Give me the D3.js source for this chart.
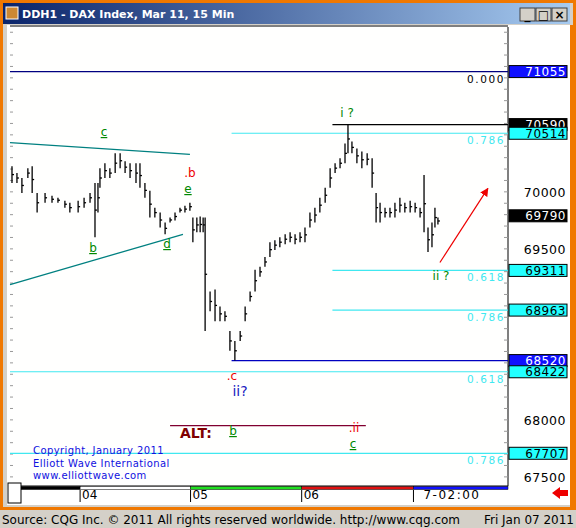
<!DOCTYPE html>
<html><head><meta charset="utf-8">
<script src="https://cdn.jsdelivr.net/npm/d3@7"></script>
<style>body{margin:0;background:#d4d0c8}svg{display:block}</style>
</head><body><svg id="c" width="576" height="528"></svg>
<script>
// bar time (15-min slot index) and high/low prices
const barT=[0.6,2.1,3.6,5.4,6.7,8.2,10.6,12.7,14.5,16.6,18.1,20.6,22.4,24.2,25.7,26.6,27.2,28.7,30.2,31.8,33.3,34.8,36.3,38.1,39.3,40.8,42.3,43.8,45.4,46.9,48.4,49.9,51.4,52.9,54.4,55.3,56.5,57.5,58.4,59,60.5,62,63.5,65,66.5,68,69.6,71.1,72.6,74.1,75.6,77.1,78.6,80.1,81.6,83.2,84.7,86.2,87.7,89.2,90.7,92.2,93.7,95.3,96.8,98.3,99.8,101.3,102.2,103.4,104.9,106.4,108,109.5,110.7,111.9,113.4,114.9,116.4,117.9,119.4,121,122.5,124,125.2,126.4,127.6,128.5,129.4];
const barHi=[70225,70165,70121,70208,70225,69991,69991,69965,69948,69922,69905,69922,69948,69991,70078,70078,70208,70251,70208,70338,70338,70268,70251,70251,70251,70078,70009,69861,69818,69732,69775,69818,69861,69879,69905,69775,69775,69783,69775,69775,69125,69143,68995,68952,68779,68692,68779,68995,69125,69316,69342,69428,69558,69576,69602,69628,69645,69628,69645,69688,69818,69861,69948,70035,70208,70251,70294,70424,70590,70442,70381,70355,70338,70294,69991,69905,69861,69861,69905,69948,69905,69922,69905,69861,70147,69688,69732,69861,69775];
const barLo=[70078,70078,69991,70121,69991,69818,69905,69905,69905,69861,69818,69818,69861,69905,69602,69818,70035,70121,70121,70165,70208,70165,70121,70078,70035,69948,69775,69775,69688,69628,69732,69749,69818,69818,69835,69558,69645,69645,69645,68779,68952,68865,68865,68865,68606,68520,68692,68865,69039,69125,69255,69342,69428,69489,69515,69541,69558,69541,69558,69558,69688,69732,69818,69905,70035,70165,70208,70251,70338,70338,70251,70208,70234,70035,69732,69732,69775,69775,69775,69818,69818,69818,69818,69775,69645,69472,69515,69688,69714];
const tickVals=[67500,68000,69500,70000];
const dayLabels=["04","05","06","7-02:00"];
const dayStarts=[21.2,54.6,88.2,122];
const levels=[ // price, box colour, text colour, fib label, line colour, start slot
 {p:71055,box:"#1010ff",tc:"#fff",fib:"0.000",lc:"#000080",t0:0},
 {p:70590,box:"#000",tc:"#fff",fib:"",lc:"#000",t0:97.5},
 {p:70514,box:"#22ffff",tc:"#000",fib:"0.786",lc:"#40e8f0",t0:67},
 {p:69311,box:"#22ffff",tc:"#000",fib:"0.618",lc:"#40e8f0",t0:97.5},
 {p:68963,box:"#22ffff",tc:"#000",fib:"0.786",lc:"#40e8f0",t0:97.5},
 {p:68520,box:"#1010ff",tc:"#fff",fib:"",lc:"#0000c0",t0:67},
 {p:68422,box:"#22ffff",tc:"#000",fib:"0.618",lc:"#40e8f0",t0:0},
 {p:67707,box:"#22ffff",tc:"#000",fib:"0.786",lc:"#40e8f0",t0:0}];
const lastPrice=69790;

const svg=d3.select("#c");
const L=10,R=508,T=27,B=486;
const x=d3.scaleLinear().domain([0,150]).range([L,L+150*3.307]);
const y=d3.scaleLinear().domain([67420,71446]).range([B,T]);
const F="Tahoma,'DejaVu Sans',sans-serif";
svg.append("rect").attr("width",576).attr("height",510).attr("fill","#f07800");
svg.append("rect").attr("x",3).attr("y",3).attr("width",570).attr("height",504).attr("fill","#d4d0c8");
const g=svg.append("defs").append("linearGradient").attr("id","tb");
g.append("stop").attr("offset","0").attr("stop-color","#0a246a");
g.append("stop").attr("offset","1").attr("stop-color","#a6caf0");
svg.append("rect").attr("x",3).attr("y",3).attr("width",567).attr("height",21).attr("fill","url(#tb)");
svg.append("rect").attr("x",6).attr("y",7).attr("width",12).attr("height",12).attr("fill","#c83").attr("stroke","#fff");
svg.append("text").attr("x",22).attr("y",18).attr("fill","#fff").attr("font-family",F).attr("font-weight","bold").attr("font-size",11).text("DDH1 - DAX Index, Mar 11, 15 Min");
["_","□","×"].forEach((s,i)=>{const bx=520+i*16;
 svg.append("rect").attr("x",bx).attr("y",8).attr("width",15).attr("height",13).attr("fill","#d4d0c8").attr("stroke","#404040");
 svg.append("text").attr("x",bx+7.5).attr("y",19).attr("text-anchor","middle").attr("font-size",12).attr("font-weight","bold").attr("font-family",F).text(s);});
svg.append("rect").attr("x",7).attr("y",25).attr("width",563).attr("height",480).attr("fill","#fff");
svg.append("rect").attr("x",570).attr("y",25).attr("width",3).attr("height",482).attr("fill","#f07800");
svg.append("rect").attr("x",L).attr("y",T).attr("width",R-L).attr("height",B-T).attr("fill","#fffffe");
svg.append("line").attr("x1",R).attr("x2",R).attr("y1",T).attr("y2",B).attr("stroke","#000");
svg.append("line").attr("x1",L).attr("x2",R).attr("y1",B).attr("y2",B).attr("stroke","#000");
svg.append("line").attr("x1",L).attr("x2",R).attr("y1",T-1).attr("y2",T-1).attr("stroke","#000");
const minor=d3.range(67500,71450,100);
svg.append("g").selectAll("line").data(minor).join("line").attr("x1",L).attr("x2",L+3).attr("y1",d=>y(d)).attr("y2",d=>y(d)).attr("stroke","#999");
svg.append("g").selectAll("line").data(minor).join("line").attr("x1",R-4).attr("x2",R).attr("y1",d=>y(d)).attr("y2",d=>y(d)).attr("stroke","#999");
svg.append("g").selectAll("text").data(tickVals).join("text").attr("x",566).attr("y",d=>y(d)+5).attr("text-anchor","end")
 .attr("font-family",F).attr("font-size",12.5).attr("letter-spacing",0.5).text(d=>d);
svg.append("line").attr("x1",x(0)).attr("y1",y(70432)).attr("x2",x(54.4)).attr("y2",y(70329)).attr("stroke","#008080").attr("stroke-width",1.3);
svg.append("line").attr("x1",x(0)).attr("y1",y(69186)).attr("x2",x(52.3)).attr("y2",y(69628)).attr("stroke","#008080").attr("stroke-width",1.3);
levels.forEach(l=>{
 svg.append("line").attr("x1",x(l.t0)).attr("x2",R).attr("y1",y(l.p)).attr("y2",y(l.p)).attr("stroke",l.lc).attr("stroke-width",1.2);
 if(l.fib) svg.append("text").attr("x",R-3).attr("y",y(l.p)+11).attr("text-anchor","end").attr("font-family",F).attr("font-size",10.5).attr("letter-spacing",1.6)
   .attr("fill",l.lc==="#000080"?"#000":"#40e8f0").text(l.fib);
});
svg.append("line").attr("x1",x(48.4)).attr("x2",x(107.6)).attr("y1",y(67950)).attr("y2",y(67950)).attr("stroke","#800030").attr("stroke-width",1.2);
const bars=svg.append("g").attr("stroke","#000").attr("stroke-width",1.3);
barT.forEach((t,i)=>{
 bars.append("line").attr("x1",x(t)).attr("x2",x(t)).attr("y1",y(barHi[i])).attr("y2",y(barLo[i]));
 const c=(barHi[i]+barLo[i])/2;
 bars.append("line").attr("x1",x(t)).attr("x2",x(t)+2).attr("y1",y(c)).attr("y2",y(c));
});
const boxes=levels.concat([{p:lastPrice,box:"#000",tc:"#fff"}]);
boxes.forEach(l=>{
 svg.append("rect").attr("x",R+1).attr("y",y(l.p)-6).attr("width",58).attr("height",12).attr("fill",l.box).attr("stroke","#000");
 svg.append("text").attr("x",566).attr("y",y(l.p)+4.5).attr("text-anchor","end").attr("fill",l.tc).attr("font-family",F).attr("font-size",12).attr("letter-spacing",0.5).text(l.p);
});
svg.append("defs").append("marker").attr("id","ah").attr("viewBox","0 0 10 10").attr("refX",9).attr("refY",5).attr("markerWidth",7).attr("markerHeight",7).attr("orient","auto")
 .append("path").attr("d","M0,0L10,5L0,10z").attr("fill","#e00");
svg.append("line").attr("x1",x(130)).attr("y1",y(69380)).attr("x2",x(144.5)).attr("y2",y(70030)).attr("stroke","#e00").attr("stroke-width",1.2).attr("marker-end","url(#ah)");
const labs=[["c",104,136,"#080",1],["b",93,252,"#080",1],["d",167,248,"#080",1],["e",188,193,"#080",1],[".b",190,177,"#e00",0],
 ["i ?",347,117,"#080",0],[".c",232,380,"#e00",0],["ii ?",441,280,"#080",0],["b",233,435,"#080",1],[".ii",354,432,"#e00",0],["c",353,448,"#080",1]];
labs.forEach(a=>svg.append("text").attr("x",a[1]).attr("y",a[2]).attr("text-anchor","middle").attr("fill",a[3]).attr("font-family",F).attr("font-size",12)
 .attr("text-decoration",a[4]?"underline":null).text(a[0]));
svg.append("text").attr("x",240).attr("y",396).attr("text-anchor","middle").attr("fill","#2020c0").attr("font-family",F).attr("font-size",14).text("ii?");
svg.append("text").attr("x",180).attr("y",438).attr("fill","#800000").attr("font-family",F).attr("font-size",14).attr("font-weight","bold").text("ALT:");
["Copyright, January 2011","Elliott Wave International","www.elliottwave.com"].forEach((s,i)=>
 svg.append("text").attr("x",33).attr("y",454+i*12.5).attr("fill","#1010e0").attr("font-family",F).attr("font-size",10).attr("letter-spacing",0.4).text(s));
const strip=[[L,x(21.2),"#000"],[x(21.2),x(54.6),"#fff"],[x(54.6),x(88.2),"#20e020"],[x(88.2),x(122),"#e01010"],[x(122),R,"#1010ff"]];
strip.forEach(s=>svg.append("rect").attr("x",s[0]).attr("y",B+0.5).attr("width",s[1]-s[0]).attr("height",3).attr("fill",s[2]).attr("stroke","#000").attr("stroke-width",0.5));
dayStarts.forEach((t,i)=>{
 svg.append("line").attr("x1",x(t)).attr("x2",x(t)).attr("y1",B+4).attr("y2",B+16).attr("stroke","#000");
 svg.append("text").attr("x",i===3?x(t)+10:x(t)+2).attr("y",B+13).attr("font-family",F).attr("font-size",12).attr("letter-spacing",i===3?1.5:0).text(dayLabels[i]);
});
svg.append("rect").attr("x",8).attr("y",483).attr("width",13).attr("height",20).attr("fill","#fff").attr("stroke","#000");
svg.append("path").attr("d","M552,493 l8,-6 v3 h8 v6 h-8 v3z").attr("fill","#e00");
svg.append("rect").attr("x",0).attr("y",510).attr("width",576).attr("height",18).attr("fill","#d4d0c8");
svg.append("text").attr("x",2).attr("y",524).attr("font-family",F).attr("font-size",12).text("Source: CQG Inc. © 2011 All rights reserved worldwide. http://www.cqg.com");
svg.append("text").attr("x",574).attr("y",524).attr("text-anchor","end").attr("font-family",F).attr("font-size",12).text("Fri Jan 07 2011");
</script></body></html>
